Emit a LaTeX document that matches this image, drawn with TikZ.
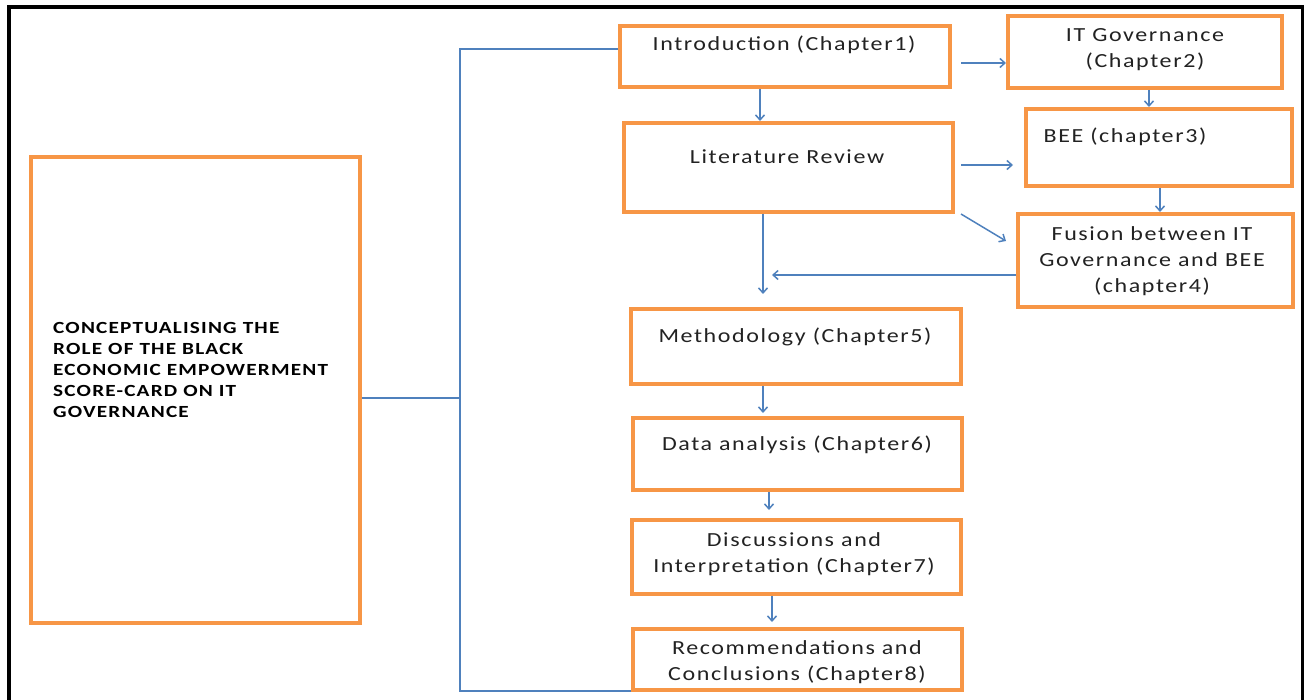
\documentclass[tikz,border=0pt]{standalone}
\usepackage{fontspec}
\setmainfont{Carlito}[FakeStretch=1.2, LetterSpace=8]
\newfontfamily\headfont{Carlito}[FakeStretch=1.25, LetterSpace=7]
\usetikzlibrary{arrows.meta,calc}

\definecolor{boxorange}{HTML}{F79646}
\definecolor{linkblue}{HTML}{4F81BD}
\definecolor{inktext}{HTML}{222222}

% stacked lines whose baseline is the first line's baseline
\newcommand\stacklines[1]{\begin{tabular}[t]{@{}c@{}}#1\end{tabular}}
% chapter box given by its corners (x1,y1) and (x2,y2)
\newcommand\chapbox[5]{%
  \node[chapbox, minimum width={#4-#2}, minimum height={#5-#3}] (#1) at ({(#2+#4)/2},{(#3+#5)/2}) {};}

\tikzset{
  chapbox/.style={draw=boxorange, line width=4pt, inner sep=0pt},
  chaptext/.style={text=inktext, font=\fontsize{20}{26}\selectfont, anchor=base, inner sep=0pt},
  headtext/.style={text=black, font=\headfont\bfseries\fontsize{17}{21}\selectfont, anchor=base west, inner sep=0pt},
  conn/.style={draw=linkblue, line width=1.5pt},
  arr/.style={conn, -{Straight Barb[length=5pt,width=9pt]}},
}

\begin{document}
\begin{tikzpicture}[x=1pt, y=-1pt]
\useasboundingbox (0,0) rectangle (1304,700);

% outer frame
\draw[line width=4pt] (9,720) -- (9,7) -- (1303,7) -- (1303,720);

% boxes
\chapbox{big}{30.5}{157.5}{360}{623}
\chapbox{intro}{620}{26}{950}{87}
\chapbox{lit}{624}{123}{953}{212}
\chapbox{itg}{1008}{16}{1282}{88}
\chapbox{bee}{1026}{109}{1292}{186}
\chapbox{fusion}{1018}{214}{1293}{307}
\chapbox{method}{631}{309}{961}{384}
\chapbox{data}{633}{418}{962}{490}
\chapbox{disc}{632}{520}{961}{594}
\chapbox{rec}{633}{629}{962}{690}

% texts
\node[headtext] (bigT) at (53,334) {\begin{tabular}[t]{@{}l@{}}CONCEPTUALISING THE\\ROLE OF THE BLACK\\ECONOMIC EMPOWERMENT\\SCORE-CARD ON IT\\GOVERNANCE\end{tabular}};
\node[chaptext] (introT) at (784,51) {Introduction (Chapter1)};
\node[chaptext] (litT) at (787,164) {Literature Review};
\node[chaptext] (itgT) at (1145,42) {\stacklines{IT Governance\\(Chapter2)}};
\node[chaptext] (beeT) at (1125,143) {BEE (chapter3)};
\node[chaptext] (fusionT) at (1152,241) {\stacklines{Fusion between IT\\Governance and BEE\\(chapter4)}};
\node[chaptext] (methodT) at (795,343) {Methodology (Chapter5)};
\node[chaptext] (dataT) at (797,450) {Data analysis (Chapter6)};
\node[chaptext] (discT) at (794,546) {\stacklines{Discussions and\\Interpretation (Chapter7)}};
\node[chaptext] (recT) at (797,654) {\stacklines{Recommendations and\\Conclusions (Chapter8)}};

% bus from the title box to the first and last chapters
\coordinate (busT) at (460,49);
\coordinate (busM) at (460,398);
\coordinate (busB) at (460,691);
\draw[conn] (intro.west |- busT) -- (busT) -- (busB) -- (rec.west |- busB);
\draw[conn] (big.east |- busM) -- (busM);

% chapter flow
\coordinate (a1) at (0,63);
\draw[arr, shorten <=9pt] (intro.east |- a1) -- (itg.west |- a1);
\coordinate (a2) at (760,0);
\draw[arr] (intro.south -| a2) -- (lit.north -| a2);
\coordinate (a3) at (1149,0);
\draw[arr] (itg.south -| a3) -- (bee.north -| a3);
\coordinate (a4) at (0,165);
\draw[arr, shorten <=6pt, shorten >=11pt] (lit.east |- a4) -- (bee.west |- a4);
\coordinate (a5) at (1160,0);
\draw[arr] (bee.south -| a5) -- (fusion.north -| a5);
\draw[arr] ($(lit.south east)+(6,0)$) -- ($(fusion.west)+(-10,-19.5)$);
\coordinate (a7) at (772,275);
\draw[arr] (fusion.west |- a7) -- (a7);
\coordinate (a8) at (763,0);
\draw[arr, shorten >=13pt] (lit.south -| a8) -- (method.north -| a8);
\draw[arr, shorten >=3pt] (method.south -| a8) -- (data.north -| a8);
\coordinate (a9) at (769,0);
\draw[arr, shorten >=8pt] (data.south -| a9) -- (disc.north -| a9);
\coordinate (a10) at (772,0);
\draw[arr, shorten >=5pt] (disc.south -| a10) -- (rec.north -| a10);
\end{tikzpicture}
\end{document}
